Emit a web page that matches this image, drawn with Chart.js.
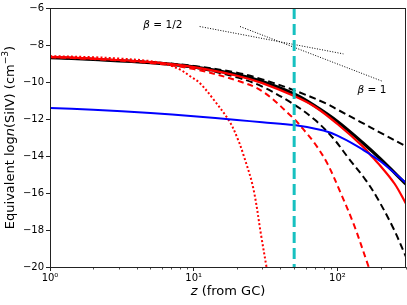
<!DOCTYPE html>
<html><head><meta charset="utf-8">
<script src="https://cdn.jsdelivr.net/npm/chart.js@4/dist/chart.umd.min.js"></script>
<style>html,body{margin:0;padding:0;background:#fff;overflow:hidden}#wrap{width:407px;height:305px}</style>
</head><body><div id="wrap"><canvas id="c" width="407" height="305"></canvas></div>
<script>
// ---- data ----
const blackSolidX = [1,2,5,10,20,30,50,70,100,150,200,300];
const blackSolidY = [-8.68,-8.78,-8.95,-9.18,-9.6,-9.98,-10.65,-11.3,-12.13,-13.28,-14.17,-15.52];

const redSolidX = [1,2,5,10,20,30,50,70,100,150,177,200,250,300];
const redSolidY = [-8.64,-8.74,-8.93,-9.2,-9.66,-10.06,-10.76,-11.35,-12.27,-13.48,-14.1,-14.55,-15.5,-16.58];

const blackDashUpperX = [1,2,5,10,20,30,50,84,100,144,200,300];
const blackDashUpperY = [-8.68,-8.77,-8.92,-9.13,-9.5,-9.86,-10.45,-11.17,-11.49,-12.15,-12.75,-13.48];

const blackDashLowerX = [1,2,5,10,20,30,50,70,93.5,119,156,187,243,300];
const blackDashLowerY = [-8.68,-8.78,-8.95,-9.22,-9.75,-10.25,-11.22,-12.06,-13.04,-14.1,-15.26,-16.2,-17.85,-19.45];

const redDashX = [1,2,5,10,20,30,50,60,70,85,104,130,165];
const redDashY = [-8.66,-8.76,-8.97,-9.3,-9.92,-10.5,-12.0,-12.7,-13.35,-14.4,-15.9,-17.7,-20];

const redDotX = [1,2,3,5,6.5,8,9.5,11,13.6,17.8,20.3,22.1,25.9,29.6,32.1];
const redDotY = [-8.6,-8.66,-8.73,-8.87,-9.05,-9.32,-9.7,-10.05,-10.9,-12.15,-13.1,-13.9,-15.7,-18.4,-20];

const blueX = [1,2,5,10,20,30,50,80,100,136,168,200,300];
const blueY = [-11.4,-11.5,-11.68,-11.85,-12.05,-12.18,-12.33,-12.62,-12.9,-13.45,-13.9,-14.3,-15.45];

const betaHalfX = [11,110];
const betaHalfY = [-7.0,-8.48];
const betaOneX = [21,207];
const betaOneY = [-7.0,-9.97];

const vlineX = 50;

const yTicks = [-20,-18,-16,-14,-12,-10,-8,-6];
const xMajorTicks = [1,10,100];
const xMajorLabels = ['10\u2070','10\u00B9','10\u00B2'];
const xMinorTicks = [2,3,4,5,6,7,8,9,20,30,40,50,60,70,80,90,200,300];

const FONT = "'DejaVu Sans', sans-serif";
const pts = (xs, ys) => xs.map((x,i)=>({x, y: ys[i]}));

function ds(xs, ys, color, width, dash){
  return {data: pts(xs,ys), borderColor: color, borderWidth: width, borderDash: dash || [],
    pointRadius: 0, fill: false, tension: 0.35, borderCapStyle: 'butt'};
}

const datasets = [
  {data:[{x:vlineX,y:-6},{x:vlineX,y:-20}], borderColor:'#17c0c0', borderWidth:3, borderDash:[11,5], pointRadius:0, tension:0, fill:false, borderCapStyle:'butt'},
  ds(betaHalfX, betaHalfY, '#000', 1, [1,1.6]),
  ds(betaOneX, betaOneY, '#000', 1, [1,1.6]),
  ds(blueX, blueY, '#0000ff', 2),
  ds(redDotX, redDotY, '#ff0000', 2, [2,2.2]),
  ds(redDashX, redDashY, '#ff0000', 2, [6,4]),
  ds(redSolidX, redSolidY, '#ff0000', 2.2),
  ds(blackDashLowerX, blackDashLowerY, '#000', 2, [7,4]),
  ds(blackDashUpperX, blackDashUpperY, '#000', 2, [7,4]),
  ds(blackSolidX, blackSolidY, '#000', 3.2),
];

function drawRich(ctx, segs, x, y, size){
  let widths = segs.map(s=>{
    const fs = s.sup ? size*0.7 : size;
    ctx.font = (s.style==='italic'?'italic ':'') + fs + 'px ' + FONT;
    return ctx.measureText(s.t).width;
  });
  const total = widths.reduce((a,b)=>a+b,0);
  let cx = x - total/2;
  segs.forEach((s,i)=>{
    const fs = s.sup ? size*0.7 : size;
    ctx.font = (s.style==='italic'?'italic ':'') + fs + 'px ' + FONT;
    ctx.fillText(s.t, cx, s.sup ? y - size*0.4 : y);
    cx += widths[i];
  });
}

const deco = {
  id:'deco',
  afterDraw(chart){
    const ctx = chart.ctx, a = chart.chartArea;
    const xs = chart.scales.x, ys = chart.scales.y;
    ctx.save();
    ctx.strokeStyle = '#222'; ctx.lineWidth = 1;
    ctx.strokeRect(Math.round(a.left)+0.5, Math.round(a.top)+0.5, Math.round(a.right-a.left)-1, Math.round(a.bottom-a.top));
    ctx.beginPath();
    xMinorTicks.forEach(v=>{
      const px = Math.round(xs.getPixelForValue(v))+0.5;
      ctx.moveTo(px, a.bottom); ctx.lineTo(px, a.bottom+2.5);
    });
    ctx.lineWidth = 0.8; ctx.stroke();
    ctx.fillStyle = '#000'; ctx.textBaseline = 'middle'; ctx.textAlign = 'left';
    drawRich(ctx, [{t:'\u03B2',style:'italic'},{t:' = 1/2',style:'normal'}], xs.getPixelForValue(6.1), ys.getPixelForValue(-6.96), 10.5);
    drawRich(ctx, [{t:'\u03B2',style:'italic'},{t:' = 1',style:'normal'}], xs.getPixelForValue(174), ys.getPixelForValue(-10.44), 10.5);
    drawRich(ctx, [{t:'z',style:'italic'},{t:' (from GC)',style:'normal'}], (a.left+a.right)/2, 292, 13);
    ctx.translate(11, (a.top+a.bottom)/2);
    ctx.rotate(-Math.PI/2);
    drawRich(ctx, [{t:'Equivalent log',style:'normal'},{t:'n',style:'italic'},{t:'(SiIV) (cm',style:'normal'},{t:'\u22123',style:'normal',sup:true},{t:')',style:'normal'}], 0, 0, 13);
    ctx.restore();
  }
};

new Chart(document.getElementById('c'), {
  type:'line',
  data:{datasets},
  options:{
    responsive:false, animation:false, devicePixelRatio:1,
    layout:{padding:{top:5,right:1,left:0,bottom:0}},
    plugins:{legend:{display:false}, tooltip:{enabled:false}},
    scales:{
      x:{type:'logarithmic', min:1, max:300,
        afterBuildTicks(s){ s.ticks = xMajorTicks.map(v=>({value:v})); },
        afterFit(s){ s.height = 38; },
        border:{display:false},
        grid:{display:true, drawOnChartArea:false, drawTicks:true, tickLength:4, tickColor:'#222', tickWidth:1},
        ticks:{autoSkip:false, maxRotation:0, padding:1, color:'#000', font:{family:FONT, size:10},
          callback(v){ const i = xMajorTicks.indexOf(v); return i>=0 ? xMajorLabels[i] : ''; }}
      },
      y:{type:'linear', min:-20, max:-6,
        afterBuildTicks(s){ s.ticks = yTicks.map(v=>({value:v})); },
        afterFit(s){ s.width = 50; },
        border:{display:false},
        grid:{display:true, drawOnChartArea:false, drawTicks:true, tickLength:4, tickColor:'#222', tickWidth:1},
        ticks:{padding:2, color:'#000', font:{family:FONT, size:10},
          callback(v){ return v<0 ? '\u2212'+Math.abs(v) : String(v); }}
      }
    }
  },
  plugins:[deco]
});
</script>
</body></html>
